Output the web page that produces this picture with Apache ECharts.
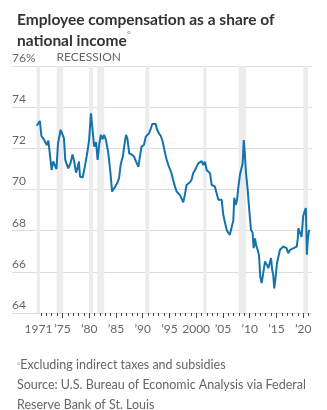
<!DOCTYPE html>
<html><head><meta charset="utf-8">
<script src="https://cdn.jsdelivr.net/npm/echarts@6/dist/echarts.min.js"></script>
<style>html,body{margin:0;padding:0;background:#fff}#c{width:327px;height:410px}</style>
</head><body><div id="c"></div>
<script>
const years = [1970.2,1970.5,1970.8,1971.1,1971.4,1971.75,1972.1,1972.4,1972.7,1973.0,1973.3,1973.6,1973.9,1974.2,1974.7,1975.05,1975.3,1975.55,1976.1,1976.55,1976.9,1977.2,1977.55,1977.8,1978.1,1978.3,1978.8,1979.2,1979.65,1980.0,1980.35,1980.65,1980.95,1981.3,1981.6,1981.9,1982.2,1982.5,1982.8,1983.15,1983.6,1984.0,1984.3,1984.6,1984.95,1985.25,1985.6,1985.9,1986.3,1986.6,1986.9,1987.15,1987.5,1987.95,1988.4,1988.9,1989.2,1989.5,1989.8,1990.25,1990.6,1990.85,1991.2,1991.5,1991.8,1992.1,1992.45,1992.7,1993.05,1993.4,1993.75,1994.2,1994.5,1994.8,1995.1,1995.4,1995.7,1996.05,1996.35,1996.65,1996.95,1997.25,1997.6,1997.9,1998.2,1998.5,1998.85,1999.15,1999.45,1999.8,2000.1,2000.4,2000.7,2001.05,2001.35,2001.65,2001.97,2002.3,2002.6,2002.9,2003.2,2003.5,2003.85,2004.15,2004.45,2004.78,2005.07,2005.4,2005.7,2006.0,2006.3,2006.65,2006.95,2007.13,2007.4,2007.65,2007.9,2008.2,2008.5,2008.7,2008.9,2009.1,2009.3,2009.63,2009.93,2010.25,2010.55,2010.75,2011.0,2011.2,2011.5,2011.75,2011.98,2012.25,2012.55,2012.87,2013.2,2013.5,2013.8,2014.0,2014.2,2014.4,2014.6,2014.85,2015.1,2015.35,2015.67,2016.0,2016.3,2016.6,2016.9,2017.2,2017.55,2017.86,2018.2,2018.5,2018.8,2019.0,2019.1,2019.4,2019.7,2020.0,2020.35,2020.5,2020.7,2020.85,2021.1];
const share = [73.1,73.05,73.33,72.6,72.5,72.49,72.16,72.37,72.4,70.95,71.36,71.3,70.99,72.25,72.9,72.94,72.5,71.44,71.03,71.3,71.7,71.4,70.82,71.0,71.36,70.63,70.58,71.1,71.76,72.4,73.7,72.9,72.08,72.3,71.44,72.2,72.65,72.45,72.65,72.4,71.76,70.79,69.9,69.95,70.17,70.3,70.55,71.2,71.6,72.16,72.65,72.5,71.76,71.7,71.6,71.28,71.1,71.6,72.08,72.16,72.57,72.5,72.73,72.93,73.18,73.1,73.18,72.9,72.73,72.6,72.33,71.76,71.44,71.2,71.12,70.79,70.47,70.14,69.9,69.84,69.74,69.58,69.38,69.74,70.22,70.3,70.35,70.47,70.79,70.95,71.11,71.27,71.35,71.38,71.19,71.35,70.95,70.9,70.79,70.22,70.2,70.15,70.06,69.5,69.5,69.5,68.77,68.7,68.04,67.9,67.8,67.75,68.5,69.6,69.25,69.5,70.14,70.74,70.67,71.27,72.4,71.76,70.87,69.98,69.0,68.04,67.9,67.15,67.63,67.3,67.07,66.8,65.77,65.45,65.53,66.5,66.35,66.18,66.1,66.67,66.1,65.85,65.2,65.73,66.42,66.5,67.07,67.0,67.23,67.31,67.15,66.9,67.07,67.15,67.15,67.23,67.23,67.63,68.12,67.9,67.7,68.7,69.0,69.1,66.83,67.55,68.04];
const recessionStart = [1970.2,1973.93,1980.0,1981.52,1990.5,2001.33,2007.95,2020.03];
const recessionEnd   = [1970.85,1975.17,1980.75,1982.83,1991.25,2001.97,2009.32,2020.9];
const labelYears = [1975,1980,1985,1990,1995,2000,2005,2010,2015,2020];
const firstLabelYear = 1971;
const firstTickYear = 1971, lastTickYear = 2021;
const tickYears = [];
for (let y = firstTickYear; y <= lastTickYear; y++) tickYears.push(String(y));

const FONT = 'Lato, sans-serif';
const chart = echarts.init(document.getElementById('c'), null, {renderer: 'canvas'});
const band = recessionStart.map((s, i) => [{xAxis: s, yAxis: 76}, {xAxis: recessionEnd[i], yAxis: 64}]);
band[1][0].label = {show: true, formatter: 'RECESSION', position: [0, -3], align: 'left', verticalAlign: 'bottom',
  color: '#666', fontSize: 12, fontFamily: FONT};

const tickAxisBase = {type: 'category', gridIndex: 1, data: tickYears, boundaryGap: false, position: 'bottom',
  axisLine: {show: false}, splitLine: {show: false}};

chart.setOption({
  animation: false,
  title: [{
    text: 'Employee compensation as a share of\nnational income{sup|°}',
    left: 12, top: 4,
    textStyle: {fontFamily: FONT, fontSize: 15.5, fontWeight: 'bold', color: '#333', lineHeight: 21,
      rich: {sup: {fontSize: 10, color: '#aaa', fontFamily: FONT, verticalAlign: 'top', lineHeight: 14}}}
  }, {
    text: '{sup|°}Excluding indirect taxes and subsidies\nSource: U.S. Bureau of Economic Analysis via Federal\nReserve Bank of St. Louis',
    left: 12, top: 350,
    textStyle: {fontFamily: FONT, fontSize: 12.5, fontWeight: 'normal', color: '#666', lineHeight: 20,
      rich: {sup: {fontSize: 8, color: '#999', fontFamily: FONT, lineHeight: 14}}}
  }],
  grid: [
    {left: 12, right: 15, top: 66, bottom: 97},
    {left: 41, right: 18.5, top: 66, bottom: 97}
  ],
  xAxis: [
    {type: 'value', gridIndex: 0, min: 1965.6, max: 2021.65, show: false},
    Object.assign({}, tickAxisBase, {
      axisTick: {show: true, length: 3, lineStyle: {color: '#444', width: 1}, interval: 0},
      axisLabel: {show: false}}),
    Object.assign({}, tickAxisBase, {
      axisTick: {show: true, length: 5, lineStyle: {color: '#444', width: 1},
        interval: (i, v) => Number(v) % 5 === 0},
      axisLabel: {show: true, margin: 10, color: '#666', fontSize: 12, fontFamily: FONT,
        hideOverlap: false,
        interval: (i, v) => labelYears.includes(Number(v)),
        formatter: v => v === '2000' ? v : '\u2019' + v.slice(2)}}),
    Object.assign({}, tickAxisBase, {
      axisTick: {show: false},
      axisLabel: {show: true, margin: 10, color: '#666', fontSize: 12, fontFamily: FONT,
        showMinLabel: true, hideOverlap: false, padding: [0, 5, 0, 0],
        interval: (i, v) => Number(v) === firstLabelYear,
        formatter: v => v}})
  ],
  yAxis: [
    {type: 'value', gridIndex: 0, min: 64, max: 76, interval: 2,
      axisLine: {show: false}, axisTick: {show: false},
      splitLine: {show: true, lineStyle: {color: '#dcdcdc', width: 1}},
      axisLabel: {inside: true, margin: 0, align: 'left', verticalAlign: 'bottom', padding: [0, 0, 2, 0],
        color: '#666', fontSize: 12, fontFamily: FONT,
        formatter: v => v === 76 ? '76%' : String(v)}},
    {type: 'value', gridIndex: 1, min: 64, max: 76, show: false}
  ],
  series: [{
    type: 'line', xAxisIndex: 0, yAxisIndex: 0,
    data: years.map((y, i) => [y, share[i]]),
    showSymbol: false, symbol: 'none',
    lineStyle: {color: '#1473a9', width: 2},
    z: 3,
    markArea: {silent: true, itemStyle: {color: '#ececee'}, data: band, z: 1}
  }]
});
</script></body></html>
